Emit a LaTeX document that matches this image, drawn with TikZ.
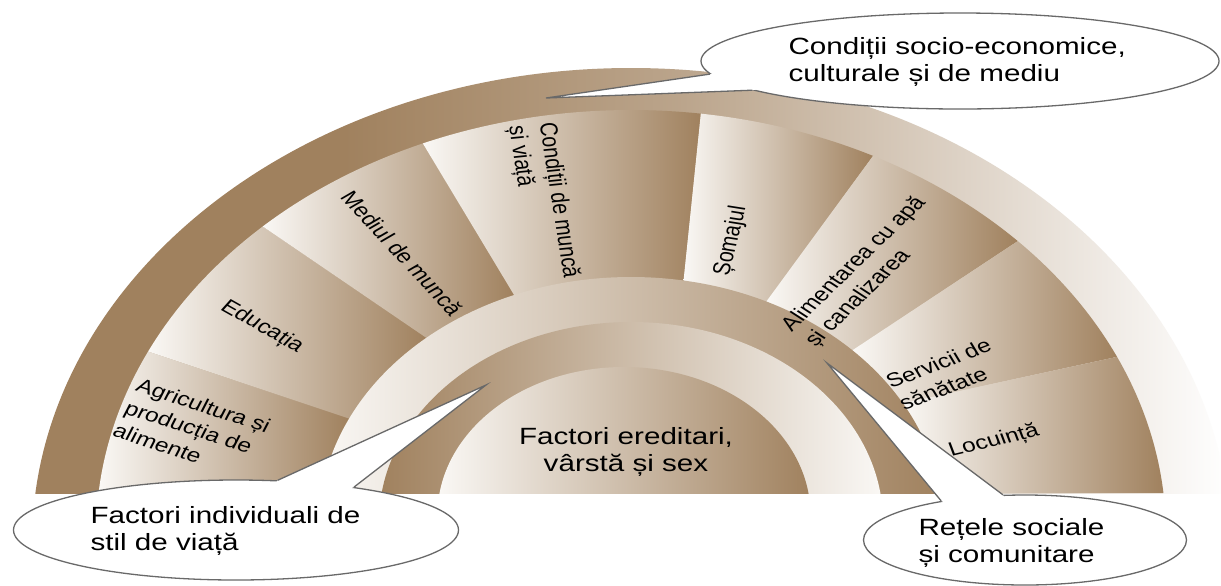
\documentclass[tikz,border=0pt]{standalone}
\usepackage{fontspec}
\setmainfont{Liberation Sans}
\usetikzlibrary{shapes.geometric,calc}
\definecolor{bD}{RGB}{160,129,94}
\definecolor{bL}{RGB}{250,248,245}
\definecolor{cO}{RGB}{105,105,105}
\colorlet{bDa}{bD!72!white}
\colorlet{bDb}{bD!35!white}
\pgfdeclarehorizontalshading{bandsh}{100bp}{color(0bp)=(bD); color(25bp)=(bD); color(38bp)=(bD); color(52bp)=(bDa); color(64bp)=(bDb); color(75bp)=(white); color(100bp)=(white)}
\begin{document}
\begin{tikzpicture}[x=0.5pt,y=-0.5pt,
  segsh/.style={left color=bL, right color=bD},
  lbl/.style={font=\fontsize{9.75}{12.2}\selectfont, align=left, inner sep=0pt, xscale=1.26},
  big/.style={font=\fontsize{11.75}{13.8}\selectfont, inner sep=0pt, xscale=1.26},
  callout/.style={ellipse, draw=cO, line width=0.65pt, fill=white, inner sep=0pt},
  ptr/.style={draw=cO, line width=0.65pt, line join=miter}]
\useasboundingbox (0,0) rectangle (1221,585);
\fill[white] (0,0) rectangle (1221,585);
\coordinate (Cb) at (631,544);
\coordinate (Cs) at (631,534);
\coordinate (Cm) at (631,525);
\coordinate (Cn) at (631,522);
\coordinate (Ci) at (624,515);
\begin{scope}
\clip (0,0) rectangle (1221,493);
\shade[shading=bandsh] (Cb) ellipse[x radius=599, y radius=476];
\foreach \k/\ao/\ai in {0/-174.45/-172.6, 1/-154.5/-154.6, 2/-133.5/-131.0, 3/-112.9/-112.0, 4/-82.5/-80.3, 5/-63.1/-64.3, 6/-43.7/-44.8, 7/-24.7/-29.4, 8/-5.55/-7.4}{
  \coordinate (o\k) at ($(Cs)+(\ao:535 and 424)$);
  \coordinate (i\k) at ($(Cm)+(\ai:312 and 248)$);
}
\foreach \k/\j/\a/\b in {0/1/-174.45/-154.5, 1/2/-154.5/-133.5, 2/3/-133.5/-112.9, 3/4/-112.9/-82.5, 4/5/-82.5/-63.1, 5/6/-63.1/-43.7, 6/7/-43.7/-24.7, 7/8/-24.7/-5.55}{
  \shade[segsh] (i\k) -- (o\k) arc[start angle=\a, end angle=\b, x radius=535, y radius=424] -- (i\j) -- cycle;
}
\shade[left color=bL, right color=bD] (Cm) ellipse[x radius=312, y radius=248];
\shade[left color=bD, right color=bL] (Cn) ellipse[x radius=252, y radius=200];
\shade[left color=bL, right color=bD] (Ci) ellipse[x radius=186.5, y radius=148];
\end{scope}
\node[big, align=center] (ered) at (626,452) {Factori ereditari,\\vârstă și sex};
\node[lbl, rotate=-22.3] (agr) at (192,428) {Agricultura și\\producția de\\alimente};
\node[lbl, rotate=-35.4] (edu) at (262,327) {Educația};
\node[lbl, rotate=-53.7] (med) at (402,253) {Mediul de muncă};
\node[lbl, rotate=-82.8] (cond) at (543,202) {Condiții de muncă\\și viață};
\node[lbl, rotate=78.8] (som) at (731,241) {Șomajul};
\node[lbl, rotate=50.6] (alim) at (866,272) {Alimentarea cu apă\\și canalizarea};
\node[lbl, rotate=25.6] (serv) at (945,374) {Servicii de\\sănătate};
\node[lbl, rotate=16.7] (loc) at (994,441) {Locuință};
% top callout
\node[callout, minimum width=259pt, minimum height=48pt] (cTop) at (960,61) {};
\coordinate (tTop) at (546,98);
\fill[white] (cTop.183) -- (tTop) -- (cTop.188) -- (cTop.center) -- cycle;
\draw[ptr] (cTop.183) -- (tTop) -- (cTop.188);
\node[big, align=left, anchor=west] (txTop) at (788,62) {Condiții socio-economice,\\culturale și de mediu};
% bottom-left callout
\node[callout, minimum width=222.5pt, minimum height=50pt] (cBL) at (236,530) {};
\coordinate (tBL) at (486,385);
\fill[white] (cBL.50) -- (tBL) -- (cBL.20) -- (cBL.center) -- cycle;
\draw[ptr] (cBL.50) -- (tBL) -- (cBL.20);
\node[big, align=left, anchor=west] (txBL) at (90,531) {Factori individuali de\\stil de viață};
% bottom-right callout
\node[callout, minimum width=161.5pt, minimum height=45pt] (cBR) at (1025,540) {};
\coordinate (tBR) at (827,363);
\fill[white] (cBR.155) -- (tBR) -- (cBR.116) -- (cBR.center) -- cycle;
\draw[ptr] (cBR.155) -- (tBR) -- (cBR.116);
\node[big, align=left, anchor=west] (txBR) at (918,543) {Rețele sociale\\și comunitare};
\end{tikzpicture}
\end{document}
